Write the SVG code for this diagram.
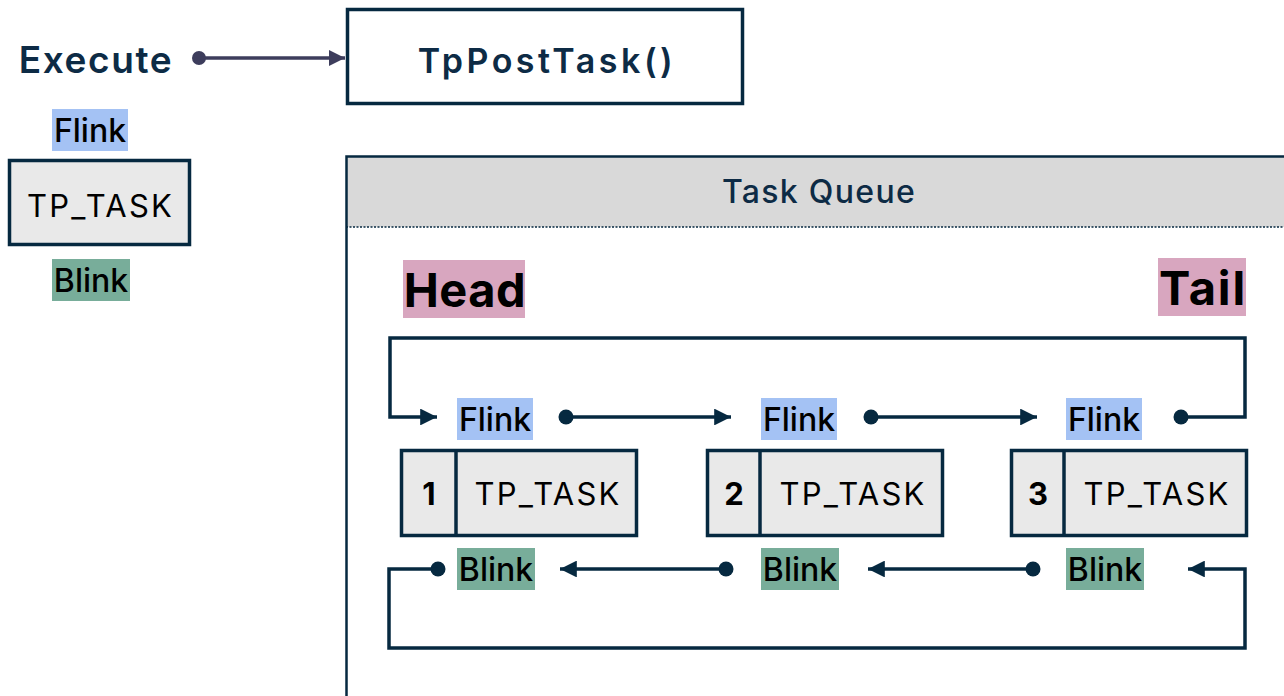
<svg xmlns="http://www.w3.org/2000/svg" width="1284" height="696" viewBox="0 0 1284 696">
<style>
.t{font-family:Inter,"Liberation Sans",sans-serif}
.lbl{font-size:32px;font-weight:500;fill:#000}
.task{font-size:31px;font-weight:400;fill:#000;letter-spacing:2.2px}
.num{font-size:31px;font-weight:700;fill:#000}
.box{fill:#e9e9e9;stroke:#062940;stroke-width:3.5}
.con{fill:none;stroke:#062940;stroke-width:3.5}
.fl{fill:#a4c2f4}
.bl{fill:#78ad9a}
.hd{fill:#d8a6bf}
</style>
<defs>
<marker id="ah" viewBox="0 0 10 10" refX="10" refY="5" markerWidth="4.8" markerHeight="4.8" markerUnits="strokeWidth" orient="auto"><path d="M0,0 L10,5 L0,10 Z" fill="#062940"/></marker>
<marker id="ah2" viewBox="0 0 10 10" refX="10" refY="5" markerWidth="4.6" markerHeight="4.6" markerUnits="strokeWidth" orient="auto"><path d="M0,0 L10,5 L0,10 Z" fill="#3d3d5c"/></marker>
</defs>

<g id="execute">
<text class="t" x="96" y="73" text-anchor="middle" font-size="37" font-weight="600" fill="#0d2b45" letter-spacing="1.6">Execute</text>
</g>
<g id="tppost">
<rect x="347.5" y="9.5" width="395" height="94" fill="#fff" stroke="#062940" stroke-width="3.5"/>
<text class="t" x="547" y="73" text-anchor="middle" font-size="34" font-weight="600" fill="#0d2b45" letter-spacing="3.5">TpPostTask()</text>
</g>
<g id="legend">
<rect class="fl" x="52" y="109" width="76" height="42"/>
<text class="t lbl" x="90" y="142" text-anchor="middle">Flink</text>
<rect class="box" x="9.5" y="160.5" width="180" height="84"/>
<text class="t task" x="100.5" y="217" text-anchor="middle">TP_TASK</text>
<rect class="bl" x="52" y="259" width="78" height="42"/>
<text class="t lbl" x="91" y="292" text-anchor="middle">Blink</text>
</g>

<g id="queue">
<rect x="346" y="156" width="945" height="71" fill="#d9d9d9"/>
<line x1="346" y1="227" x2="1284" y2="227" stroke="#062940" stroke-width="1.5" stroke-dasharray="2,1.5"/>
<path d="M346.5,700 V156.5 H1290" fill="none" stroke="#062940" stroke-width="2.5"/>
<text class="t" x="819" y="203" text-anchor="middle" font-size="32" font-weight="500" fill="#0d2b45" letter-spacing="1.3">Task Queue</text>
</g>
<g id="head">
<rect class="hd" x="403" y="260" width="122" height="58"/>
<text class="t" x="465" y="307" text-anchor="middle" font-size="47" font-weight="700" fill="#000" letter-spacing="0.5">Head</text>
</g>
<g id="tail">
<rect class="hd" x="1158" y="258" width="88" height="58"/>
<text class="t" x="1203" y="305" text-anchor="middle" font-size="47" font-weight="700" fill="#000" letter-spacing="1.8">Tail</text>
</g>

<g id="task1">
<rect class="fl" x="457" y="398" width="76" height="42"/>
<text class="t lbl" x="495" y="431" text-anchor="middle">Flink</text>
<rect class="box" x="401.5" y="450.5" width="235" height="85"/>
<line x1="456" y1="450" x2="456" y2="536" stroke="#062940" stroke-width="3.5"/>
<text class="t num" x="429" y="505" text-anchor="middle">1</text>
<text class="t task" x="548" y="505" text-anchor="middle">TP_TASK</text>
<rect class="bl" x="457" y="548" width="78" height="42"/>
<text class="t lbl" x="496" y="581" text-anchor="middle">Blink</text>
</g>
<g id="task2">
<rect class="fl" x="761" y="398" width="76" height="42"/>
<text class="t lbl" x="799" y="431" text-anchor="middle">Flink</text>
<rect class="box" x="707.5" y="450.5" width="235" height="85"/>
<line x1="760" y1="450" x2="760" y2="536" stroke="#062940" stroke-width="3.5"/>
<text class="t num" x="734" y="505" text-anchor="middle">2</text>
<text class="t task" x="853" y="505" text-anchor="middle">TP_TASK</text>
<rect class="bl" x="761" y="548" width="78" height="42"/>
<text class="t lbl" x="800" y="581" text-anchor="middle">Blink</text>
</g>
<g id="task3">
<rect class="fl" x="1066" y="398" width="76" height="42"/>
<text class="t lbl" x="1104" y="431" text-anchor="middle">Flink</text>
<rect class="box" x="1011.5" y="450.5" width="235" height="85"/>
<line x1="1064" y1="450" x2="1064" y2="536" stroke="#062940" stroke-width="3.5"/>
<text class="t num" x="1038" y="505" text-anchor="middle">3</text>
<text class="t task" x="1157" y="505" text-anchor="middle">TP_TASK</text>
<rect class="bl" x="1066" y="548" width="78" height="42"/>
<text class="t lbl" x="1105" y="581" text-anchor="middle">Blink</text>
</g>

<g id="connectors">
<circle cx="199" cy="58" r="7" fill="#3d3d5c"/>
<line x1="199" y1="58" x2="345" y2="58" stroke="#3d3d5c" stroke-width="3.5" marker-end="url(#ah2)"/>

<circle cx="566" cy="417" r="7.5" fill="#062940"/>
<line x1="566" y1="417" x2="731" y2="417" class="con" marker-end="url(#ah)"/>
<circle cx="871" cy="417" r="7.5" fill="#062940"/>
<line x1="871" y1="417" x2="1037" y2="417" class="con" marker-end="url(#ah)"/>
<circle cx="1181" cy="417" r="7.5" fill="#062940"/>
<path d="M1181,417 H1245 V338 H390 V417 H437" class="con" marker-end="url(#ah)"/>

<circle cx="438" cy="569" r="7.5" fill="#062940"/>
<path d="M438,569 H389 V648 H1245 V569 H1188" class="con" marker-end="url(#ah)"/>
<circle cx="726" cy="569" r="7.5" fill="#062940"/>
<line x1="726" y1="569" x2="560" y2="569" class="con" marker-end="url(#ah)"/>
<circle cx="1033" cy="569" r="7.5" fill="#062940"/>
<line x1="1033" y1="569" x2="868" y2="569" class="con" marker-end="url(#ah)"/>
</g>
</svg>
